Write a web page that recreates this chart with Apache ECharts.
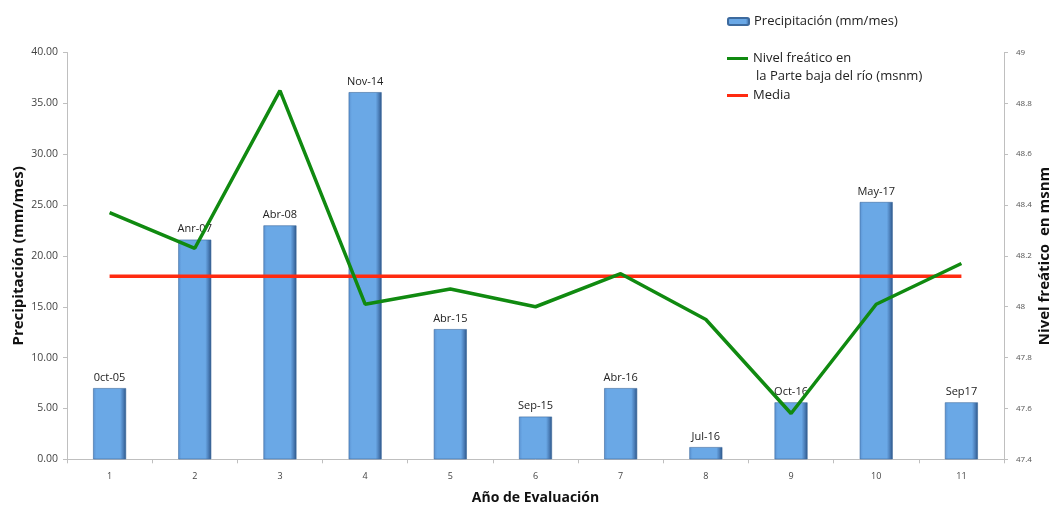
<!DOCTYPE html>
<html>
<head>
<meta charset="utf-8">
<script src="https://cdn.jsdelivr.net/npm/echarts@6/dist/echarts.min.js"></script>
<style>
html,body{margin:0;padding:0;background:#fff;}
#c{width:1055px;height:505px;}
</style>
</head>
<body>
<div id="c"></div>
<script>
const categories = ['1','2','3','4','5','6','7','8','9','10','11'];
const precipitacion = [7.0, 21.6, 23.0, 36.1, 12.8, 4.2, 7.0, 1.2, 5.6, 25.3, 5.6];
const barLabels = ['0ct-05','Anr-07','Abr-08','Nov-14','Abr-15','Sep-15','Abr-16','Jul-16','Oct-16','May-17','Sep17'];
const nivel = [48.37, 48.23, 48.85, 48.01, 48.07, 48.00, 48.13, 47.95, 47.58, 48.01, 48.17];
const media = [48.12, 48.12, 48.12, 48.12, 48.12, 48.12, 48.12, 48.12, 48.12, 48.12, 48.12];

const FONT = 'Open Sans';
const barGrad = new echarts.graphic.LinearGradient(0, 0, 1, 0, [
  {offset: 0, color: '#5a92d2'},
  {offset: 0.1, color: '#6aa8e6'},
  {offset: 0.82, color: '#6aa8e6'},
  {offset: 0.92, color: '#4a7cb6'},
  {offset: 1, color: '#2c5585'}
]);

const chart = echarts.init(document.getElementById('c'));
chart.setOption({
  animation: false,
  textStyle: {fontFamily: FONT},
  grid: {left: 67, right: 51, top: 52.5, bottom: 45.7, containLabel: false, outerBoundsMode: 'none'},
  legend: [
    {data: ['Precipitación (mm/mes)'], left: 727, top: 15, padding: 0, itemWidth: 21, itemHeight: 7,
     textStyle: {fontSize: 13, color: '#222', fontFamily: FONT}},
    {data: [{name: 'Nivel freático en la Parte baja del río (msnm)', icon: 'rect'}], left: 727, top: 52, padding: 0, itemWidth: 21, itemHeight: 3,
     formatter: () => 'Nivel freático en',
     textStyle: {fontSize: 13, color: '#222', fontFamily: FONT}},
    {data: [{name: 'Media', icon: 'rect'}], left: 727, top: 89, padding: 0, itemWidth: 21, itemHeight: 3,
     textStyle: {fontSize: 13, color: '#222', fontFamily: FONT}}
  ],
  graphic: [
    {type: 'text', left: 756, top: 70, style: {text: 'la Parte baja del río (msnm)', fontSize: 13, fill: '#222', fontFamily: FONT}}
  ],
  xAxis: {
    type: 'category', data: categories, boundaryGap: true,
    name: 'Año de Evaluación', nameLocation: 'middle', nameGap: 32,
    nameTextStyle: {fontSize: 14, fontWeight: 'bold', color: '#111', fontFamily: FONT},
    axisLine: {lineStyle: {color: '#bfbfbf', width: 1}},
    axisTick: {show: true, length: 4, inside: false, lineStyle: {color: '#bfbfbf'}},
    axisLabel: {fontSize: 9, color: '#444', margin: 13}
  },
  yAxis: [
    {type: 'value', min: 0, max: 40, interval: 5,
     name: 'Precipitación (mm/mes)', nameLocation: 'middle', nameGap: 41, nameMoveOverlap: false,
     nameTextStyle: {fontSize: 15, fontWeight: 'bold', color: '#111', fontFamily: FONT},
     axisLine: {show: true, lineStyle: {color: '#bfbfbf'}},
     axisTick: {show: true, length: 4, lineStyle: {color: '#bfbfbf'}},
     axisLabel: {fontSize: 10.5, color: '#444', margin: 9, formatter: v => v.toFixed(2)},
     splitLine: {show: false}},
    {type: 'value', min: 47.4, max: 49, interval: 0.2, position: 'right',
     name: 'Nivel freático  en msnm', nameLocation: 'middle', nameGap: 33, nameRotate: 90, nameMoveOverlap: false,
     nameTextStyle: {fontSize: 15, fontWeight: 'bold', color: '#111', fontFamily: FONT},
     axisLine: {show: true, lineStyle: {color: '#bfbfbf'}},
     axisTick: {show: true, length: 4, lineStyle: {color: '#bfbfbf'}},
     axisLabel: {fontSize: 8, color: '#555', margin: 12, formatter: v => String(+v.toFixed(1))},
     splitLine: {show: false}}
  ],
  series: [
    {name: 'Precipitación (mm/mes)', type: 'bar', data: precipitacion, barWidth: 33, yAxisIndex: 0,
     itemStyle: {color: barGrad, borderColor: '#3d6a9e', borderWidth: 0.6},
     label: {show: true, position: 'top', distance: 5, fontSize: 11, color: '#222', fontFamily: FONT,
             formatter: p => barLabels[p.dataIndex]},
     z: 1},
    {name: 'Nivel freático en la Parte baja del río (msnm)', type: 'line', data: nivel, yAxisIndex: 1,
     showSymbol: false, symbol: 'none', lineStyle: {color: '#108a10', width: 3.5}, itemStyle: {color: '#108a10'}, z: 3},
    {name: 'Media', type: 'line', data: media, yAxisIndex: 1,
     showSymbol: false, symbol: 'none', lineStyle: {color: '#ff2a10', width: 3.5}, itemStyle: {color: '#ff2a10'}, z: 2}
  ]
});
</script>
</body>
</html>
